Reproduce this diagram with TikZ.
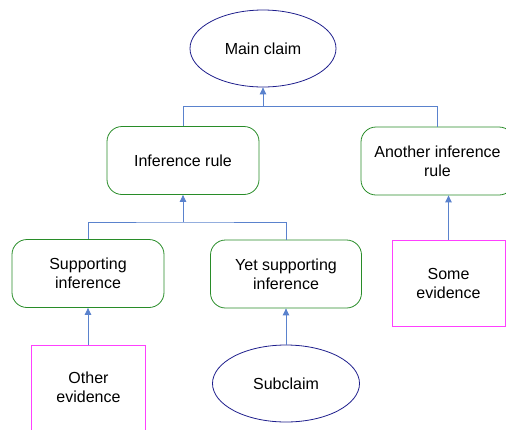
\documentclass[tikz,border=0pt]{standalone}
\usepackage{fontspec}
\setmainfont{Liberation Sans}
\usetikzlibrary{shapes.geometric,arrows.meta}
\definecolor{claimc}{RGB}{30,30,140}
\definecolor{rulec}{RGB}{40,140,40}
\definecolor{evc}{RGB}{255,64,255}
\definecolor{linkc}{RGB}{90,130,205}
\begin{document}
\begin{tikzpicture}[x=1pt,y=-1pt,
 every node/.style={font=\fontsize{16}{19}\selectfont, align=center, inner sep=0pt},
 claim/.style={ellipse, draw=claimc, line width=0.8pt, minimum width=146pt, minimum height=77pt},
 rulebox/.style={rectangle, rounded corners=15pt, draw=rulec, line width=0.8pt, minimum width=152pt, minimum height=68pt},
 evbox/.style={rectangle, draw=evc, line width=1pt, minimum width=114pt, minimum height=86pt},
 evline/.style={draw=evc, line width=1pt},
 link/.style={draw=linkc, line width=0.9pt},
 arr/.style={link, -{Triangle[width=6.5pt,length=7pt]}}]
\useasboundingbox (0,0) rectangle (506,429);
\node[claim] (main) at (263,48.5) {Main claim};
\node[rulebox] (rule1) at (183,160.5) {Inference rule};
\node[rulebox, minimum width=153pt] (rule2) at (437.5,161) {Another inference\\rule};
\node[rulebox, minimum width=152pt] (sup) at (88,273.5) {Supporting\\inference};
\node[rulebox, minimum width=151pt] (yet) at (286,274) {Yet supporting\\inference};
\node[evbox, minimum width=113pt] (some) at (448.5,283) {Some\\evidence};
\node[rectangle, minimum width=114pt, minimum height=84pt] (other) at (88.5,387.5) {Other\\evidence};
\draw[evline] (other.south west) |- (other.north east) -- (other.south east);
\node[claim, minimum width=147pt] (sub) at (286,383.5) {Subclaim};
% junctions
\coordinate (j1) at (263,106.5);
\coordinate (j2) at (183,222);
\draw[link] (rule1.north) |- (j1) -| (rule2.north);
\draw[arr] (j1) -- (main.south);
\draw[link] (sup.north) |- (j2) -| (yet.north);
\draw[arr] (j2) -- (rule1.south);
\draw[arr] (other.north -| sup.south) -- (sup.south);
\draw[arr] (sub.north) -- (yet.south);
\draw[arr] (some.north) -- (some.north |- rule2.south);
\end{tikzpicture}
\end{document}
